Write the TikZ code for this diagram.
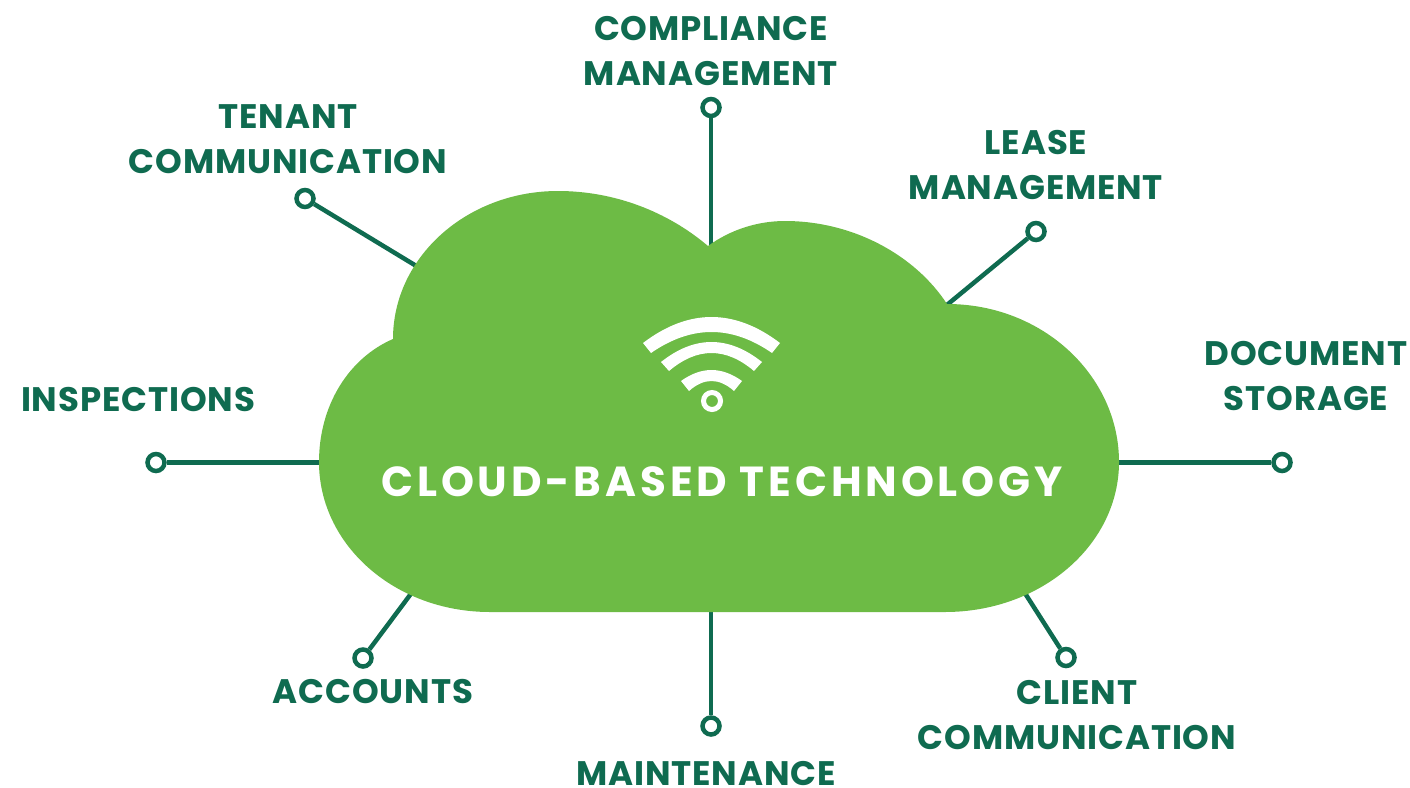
\documentclass[tikz,border=0pt]{standalone}
\usepackage{fontspec}
\newfontfamily\lblfont{Poppins}[BoldFont={Poppins Bold},LetterSpace=2.5]
\newfontfamily\titlefont{Poppins}[BoldFont={Poppins Bold},LetterSpace=9.2]
\definecolor{cloudgreen}{HTML}{6DBB45}
\definecolor{darkgreen}{HTML}{0F6B50}
\newcommand{\wifiband}[6]{% left-outer x,y, top y, left-inner x,y, top y
  \fill[white] (#1,#2) .. controls ({#1+2/3*(711.5-#1)},{#2+2/3*(2*#3-2*#2)}) and ({1423-#1-2/3*(711.5-#1)},{#2+2/3*(2*#3-2*#2)}) .. ({1423-#1},#2)
   -- ({1423-#4},#5) .. controls ({1423-#4-2/3*(711.5-#4)},{#5+2/3*(2*#6-2*#5)}) and ({#4+2/3*(711.5-#4)},{#5+2/3*(2*#6-2*#5)}) .. (#4,#5) -- cycle;}
\tikzset{
  lbl/.style={text=darkgreen,font=\lblfont\fontsize{34}{45}\selectfont\bfseries,align=center,inner sep=0pt,anchor=center},
  ringnode/.style={circle,draw=darkgreen,line width=4.5pt,fill=white,minimum size=17pt,inner sep=0pt},
  conn/.style={draw=darkgreen,line width=4.5pt}
}
\begin{document}
\begin{tikzpicture}[x=1pt,y=-1pt]
\useasboundingbox (0,0) rectangle (1410,787);
% rings
\node[ringnode] (rcomp) at (711,107.5) {};
\node[ringnode] (rten) at (305,198.5) {};
\node[ringnode] (rlease) at (1036,231.5) {};
\node[ringnode] (rdoc) at (1282,462.5) {};
\node[ringnode] (rinsp) at (156,462.5) {};
\node[ringnode] (racc) at (363,658) {};
\node[ringnode] (rmaint) at (711,726) {};
\node[ringnode] (rclient) at (1066,657.5) {};
% connector ends on the cloud
\coordinate (ccomp) at (711,250);
\coordinate (cten) at (418,267);
\coordinate (clease) at (942,309);
\coordinate (cdoc) at (1112,462.5);
\coordinate (cinsp) at (326,462.5);
\coordinate (cacc) at (416,587);
\coordinate (cmaint) at (711,606);
\coordinate (cclient) at (1021,587);
\draw[conn] (rcomp) -- (ccomp);
\draw[conn] (rten) -- (cten);
\draw[conn] (rlease) -- (clease);
\draw[conn] (rdoc) -- (cdoc);
\draw[conn] (rinsp) -- (cinsp);
\draw[conn] (racc) -- (cacc);
\draw[conn] (rmaint) -- (cmaint);
\draw[conn] (rclient) -- (cclient);
% cloud
\fill[cloudgreen] (490,612)
  .. controls (395,612) and (319,545) .. (319,462)
  .. controls (319,405) and (349,358) .. (393,339)
  .. controls (393,257) and (467,191) .. (558,191)
  .. controls (615,191) and (668,212) .. (708,246)
  .. controls (730,230) and (757,221) .. (785,221)
  .. controls (853,221) and (915,255) .. (947,304)
  .. controls (1043,304) and (1119,376) .. (1119,462)
  .. controls (1119,545) and (1041,612) .. (945,612)
  -- cycle;
% wifi
\wifiband{643}{343}{317}{651}{353}{332}
\wifiband{661}{362}{342}{669}{371}{353}
\wifiband{681}{381}{370}{689}{391}{381}
\draw[white,line width=5pt] (712,401) circle (8.5);
% labels
\node[lbl] (tcomp) at (711,50.5) {COMPLIANCE\\MANAGEMENT};
\node[lbl] (tten) at (288,139.5) {TENANT\\COMMUNICATION};
\node[lbl] (tlease) at (1036,164.5) {LEASE\\MANAGEMENT};
\node[lbl] (tdoc) at (1306,376.5) {DOCUMENT\\STORAGE};
\node[lbl] (tinsp) at (138,400) {INSPECTIONS};
\node[lbl] (tacc) at (373,692) {ACCOUNTS};
\node[lbl] (tmaint) at (706,773.5) {MAINTENANCE};
\node[lbl] (tclient) at (1077,715.5) {CLIENT\\COMMUNICATION};
\node[text=white,font=\titlefont\fontsize{42}{46}\selectfont\bfseries,inner sep=0pt] (ttitle) at (722,481.5) {CLOUD-BASED TECHNOLOGY};
\end{tikzpicture}
\end{document}
